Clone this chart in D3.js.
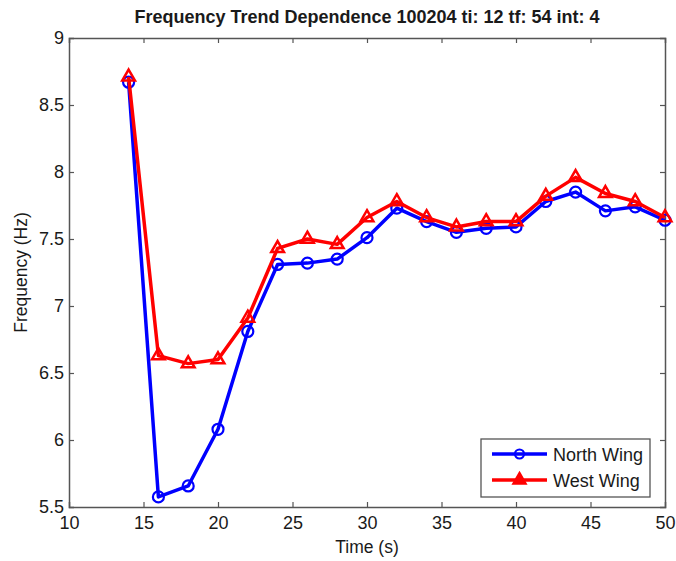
<!DOCTYPE html>
<html><head><meta charset="utf-8">
<script src="https://cdn.jsdelivr.net/npm/d3@7"></script>
<style>body{margin:0;background:#fff;} svg{display:block;font-family:"Liberation Sans",Arial,sans-serif;}</style>
</head><body>
<svg id="chart" width="676" height="561"></svg>
<script>
const times = [14,16,18,20,22,24,26,28,30,32,34,36,38,40,42,44,46,48,50];
const northWing = [8.67,5.575,5.657,6.08,6.81,7.31,7.32,7.35,7.51,7.73,7.63,7.55,7.58,7.59,7.78,7.85,7.71,7.74,7.64];
const westWing = [8.71,6.63,6.57,6.60,6.91,7.43,7.50,7.46,7.66,7.78,7.66,7.59,7.63,7.63,7.82,7.96,7.84,7.78,7.66];
const xTicks = [10,15,20,25,30,35,40,45,50];
const yTicks = [5.5,6,6.5,7,7.5,8,8.5,9];
const seriesNames = ["North Wing","West Wing"];
const seriesColors = ["#0000ff","#ff0000"];

const svg = d3.select("#chart");
const L=69, R=665, T=38, B=507;
const x = d3.scaleLinear().domain([10,50]).range([L,R]);
const y = d3.scaleLinear().domain([5.5,9]).range([B,T]);
const axisColor = "#555";
const txt = "#1a1a1a";

// title
svg.append("text").attr("x",(L+R)/2).attr("y",23).attr("text-anchor","middle")
  .attr("font-size",18).attr("font-weight","bold").attr("fill",txt)
  .text("Frequency Trend Dependence 100204 ti: 12 tf: 54 int: 4");

// axes
const xb = svg.append("g").attr("transform",`translate(0,${B})`)
  .call(d3.axisBottom(x).tickValues(xTicks).tickSize(-5).tickPadding(9).tickFormat(d3.format("d")));
const xt = svg.append("g").attr("transform",`translate(0,${T})`)
  .call(d3.axisTop(x).tickValues(xTicks).tickSize(-5).tickFormat(""));
const yl = svg.append("g").attr("transform",`translate(${L},0)`)
  .call(d3.axisLeft(y).tickValues(yTicks).tickSize(-5).tickPadding(5).tickFormat(d=>d3.format("")(d)));
const yr = svg.append("g").attr("transform",`translate(${R},0)`)
  .call(d3.axisRight(y).tickValues(yTicks).tickSize(-5).tickFormat(""));
[xb,xt,yl,yr].forEach(g=>{
  g.selectAll("path").attr("stroke",axisColor).attr("stroke-width",1.5);
  g.selectAll("line").attr("stroke",axisColor).attr("stroke-width",1.2);
  g.selectAll("text").attr("font-size",18).attr("fill",txt).attr("font-family","Liberation Sans, Arial, sans-serif");
});
xb.selectAll(".tick").filter(d=>d===10||d===50).select("line").remove();
xt.selectAll(".tick").filter(d=>d===10||d===50).select("line").remove();
yl.selectAll(".tick").filter(d=>d===5.5||d===9).select("line").remove();
yr.selectAll(".tick").filter(d=>d===5.5||d===9).select("line").remove();

// axis labels
svg.append("text").attr("x",(L+R)/2).attr("y",553).attr("text-anchor","middle")
  .attr("font-size",17.5).attr("fill",txt).text("Time (s)");
svg.append("text").attr("transform",`translate(27,${(T+B)/2}) rotate(-90)`).attr("text-anchor","middle")
  .attr("font-size",17.5).attr("fill",txt).text("Frequency (Hz)");

const line = d3.line().x((d,i)=>x(times[i])).y(d=>y(d));
const tri = d3.symbol().type(d3.symbolTriangle).size(70);

function drawSeries(vals, color, marker){
  svg.append("path").datum(vals).attr("d",line).attr("fill","none")
    .attr("stroke",color).attr("stroke-width",3.5).attr("stroke-linejoin","round");
  const g = svg.append("g");
  vals.forEach((v,i)=>{
    if(marker==="circle"){
      g.append("circle").attr("cx",x(times[i])).attr("cy",y(v)).attr("r",5.5)
        .attr("fill","none").attr("stroke",color).attr("stroke-width",2.2);
    } else {
      g.append("path").attr("d",tri).attr("transform",`translate(${x(times[i])},${y(v)})`)
        .attr("fill","none").attr("stroke",color).attr("stroke-width",2.5);
    }
  });
}
drawSeries(northWing, seriesColors[0], "circle");
drawSeries(westWing, seriesColors[1], "triangle");

// legend
const lg = svg.append("g");
lg.append("rect").attr("x",481).attr("y",439).attr("width",169).attr("height",58)
  .attr("fill","#fff").attr("stroke",axisColor).attr("stroke-width",1.3);
[0,1].forEach(k=>{
  const ly = k===0?454:480;
  lg.append("line").attr("x1",492).attr("x2",547).attr("y1",ly).attr("y2",ly)
    .attr("stroke",seriesColors[k]).attr("stroke-width",3.5);
  if(k===0){
    lg.append("circle").attr("cx",519.5).attr("cy",ly).attr("r",4.5).attr("fill","none")
      .attr("stroke",seriesColors[k]).attr("stroke-width",2.2);
  } else {
    lg.append("path").attr("d",d3.symbol().type(d3.symbolTriangle).size(60)).attr("transform",`translate(519.5,${ly})`)
      .attr("fill",seriesColors[k]).attr("stroke",seriesColors[k]).attr("stroke-width",2.5);
  }
  lg.append("text").attr("x",553).attr("y",ly+6.5).attr("font-size",18).attr("fill",txt).text(seriesNames[k]);
});
</script>
</body></html>
